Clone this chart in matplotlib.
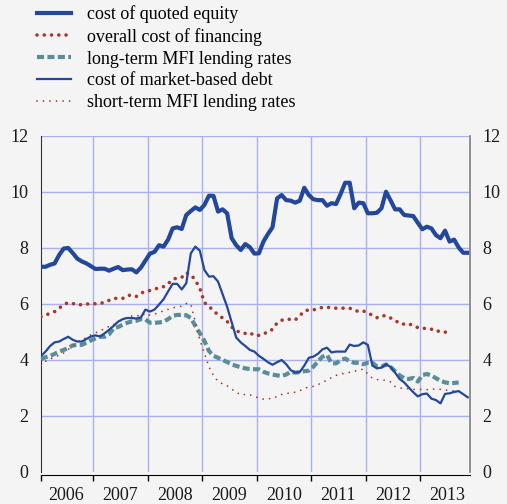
import numpy as np
import matplotlib.pyplot as plt

plt.rcParams['font.family'] = ['Liberation Serif', 'DejaVu Serif']

years = ['2006', '2007', '2008', '2009', '2010', '2011', '2012', '2013']

# monthly series, Jan 2006 onwards (percentages per annum)
quoted_equity = [
    7.33, 7.33, 7.40, 7.45, 7.75, 7.98, 8.00, 7.82, 7.62, 7.52, 7.45, 7.35,
    7.25, 7.26, 7.26, 7.19, 7.26, 7.32, 7.21, 7.23, 7.24, 7.13, 7.30, 7.55,
    7.80, 7.86, 8.10, 8.05, 8.30, 8.70, 8.74, 8.68, 9.18, 9.32, 9.45, 9.36,
    9.54, 9.87, 9.86, 9.30, 9.38, 9.24, 8.35, 8.10, 7.93, 8.14, 8.03, 7.80,
    7.81, 8.23, 8.50, 8.74, 9.77, 9.89, 9.71, 9.69, 9.62, 9.69, 10.15, 9.89,
    9.74, 9.71, 9.71, 9.51, 9.60, 9.57, 9.93, 10.33, 10.33, 9.42, 9.62, 9.60,
    9.24, 9.24, 9.26, 9.42, 10.01, 9.70, 9.38, 9.38, 9.18, 9.16, 9.14, 8.90,
    8.67, 8.76, 8.70, 8.46, 8.35, 8.62, 8.23, 8.30, 8.02, 7.83, 7.83,
]
overall_cost = [
    5.55, 5.60, 5.67, 5.73, 5.85, 5.98, 6.05, 6.02, 5.96, 5.98, 6.00, 6.00,
    6.01, 6.02, 6.06, 6.13, 6.20, 6.20, 6.20, 6.30, 6.32, 6.27, 6.38, 6.46,
    6.48, 6.53, 6.58, 6.62, 6.72, 6.88, 6.93, 6.95, 7.12, 7.05, 6.85, 6.55,
    6.05, 5.92, 5.75, 5.62, 5.50, 5.38, 5.18, 5.05, 4.97, 4.95, 4.98, 4.87,
    4.88, 4.95, 4.98, 5.10, 5.32, 5.42, 5.46, 5.45, 5.43, 5.58, 5.75, 5.79,
    5.79, 5.83, 5.88, 5.88, 5.87, 5.85, 5.85, 5.85, 5.85, 5.78, 5.73, 5.75,
    5.68, 5.60, 5.51, 5.58, 5.58, 5.50, 5.42, 5.30, 5.28, 5.30, 5.22, 5.16,
    5.13, 5.13, 5.10, 5.02, 5.04, 5.00, 4.93,
]
long_term_mfi = [
    4.03, 4.10, 4.14, 4.22, 4.30, 4.36, 4.43, 4.52, 4.54, 4.54, 4.62, 4.70,
    4.77, 4.83, 4.83, 4.92, 5.13, 5.18, 5.26, 5.33, 5.38, 5.40, 5.46, 5.45,
    5.33, 5.33, 5.34, 5.37, 5.46, 5.58, 5.61, 5.61, 5.60, 5.50, 5.22, 4.95,
    4.68, 4.32, 4.15, 4.08, 4.00, 3.93, 3.84, 3.79, 3.74, 3.70, 3.68, 3.67,
    3.67, 3.58, 3.52, 3.48, 3.45, 3.43, 3.48, 3.58, 3.55, 3.57, 3.60, 3.62,
    3.76, 3.95, 4.12, 4.18, 3.88, 3.88, 4.00, 4.05, 3.96, 3.90, 3.90, 3.85,
    3.90, 3.90, 3.77, 3.76, 3.84, 3.75, 3.60, 3.45, 3.35, 3.32, 3.36, 3.23,
    3.46, 3.50, 3.45, 3.35, 3.26, 3.20, 3.17, 3.18, 3.20,
]
market_debt = [
    4.14, 4.30, 4.50, 4.63, 4.66, 4.75, 4.83, 4.72, 4.66, 4.66, 4.75, 4.84,
    4.88, 4.84, 4.95, 5.08, 5.22, 5.37, 5.46, 5.50, 5.50, 5.48, 5.52, 5.80,
    5.73, 5.80, 5.98, 6.17, 6.45, 6.72, 6.72, 6.52, 6.74, 7.81, 8.05, 7.90,
    7.21, 6.98, 6.99, 6.80, 6.35, 5.90, 5.35, 4.80, 4.63, 4.50, 4.36, 4.30,
    4.15, 4.04, 3.92, 3.83, 3.92, 4.00, 3.85, 3.64, 3.55, 3.57, 3.80, 4.08,
    4.12, 4.22, 4.38, 4.44, 4.27, 4.30, 4.30, 4.30, 4.55, 4.50, 4.52, 4.63,
    4.54, 3.80, 3.70, 3.73, 3.85, 3.75, 3.55, 3.32, 3.20, 3.02, 2.85, 2.70,
    2.78, 2.80, 2.62, 2.57, 2.45, 2.79, 2.81, 2.86, 2.89, 2.78, 2.67,
]
short_term_mfi = [
    3.80, 3.95, 4.04, 4.10, 4.17, 4.25, 4.38, 4.50, 4.64, 4.72, 4.80, 4.90,
    4.97, 5.04, 5.12, 5.20, 5.26, 5.38, 5.43, 5.53, 5.57, 5.60, 5.55, 5.67,
    5.60, 5.64, 5.69, 5.76, 5.81, 5.86, 5.90, 5.92, 6.02, 6.00, 5.35, 4.70,
    4.24, 3.75, 3.45, 3.23, 3.15, 3.08, 2.96, 2.85, 2.75, 2.77, 2.76, 2.70,
    2.64, 2.60, 2.62, 2.62, 2.70, 2.77, 2.80, 2.83, 2.85, 2.90, 2.98, 3.04,
    3.06, 3.12, 3.20, 3.28, 3.37, 3.45, 3.50, 3.53, 3.56, 3.60, 3.64, 3.67,
    3.50, 3.35, 3.30, 3.29, 3.27, 3.22, 3.05, 3.00, 2.99, 2.97, 2.95, 2.95,
    2.95, 2.94, 2.95, 2.97, 2.95, 2.93, 2.91, 2.89, 2.89,
]

blue = '#22479b'
red = '#a8382b'
teal = '#5b8d98'
grid_c = '#a9b1ea'
bg = '#f4f4f4'

fig = plt.figure(figsize=(5.07, 5.04), dpi=100, facecolor=bg)
ax = fig.add_axes([41 / 507, 1 - 472 / 504, 429 / 507, 336 / 504])
ax.set_facecolor(bg)

l1, = ax.plot(np.arange(len(quoted_equity)), quoted_equity, color=blue, lw=3.0,
              solid_joinstyle='round', zorder=6)
l2, = ax.plot(np.arange(len(overall_cost)), overall_cost, color=red, lw=2.6,
              linestyle=(0, (0.01, 2.0)), dash_capstyle='round', zorder=4)
l3, = ax.plot(np.arange(len(long_term_mfi)), long_term_mfi, color=teal, lw=3.0,
              linestyle=(0, (1.7, 0.8)), zorder=3)
l4, = ax.plot(np.arange(len(market_debt)), market_debt, color=blue, lw=1.6, zorder=5)
l5, = ax.plot(np.arange(len(short_term_mfi)), short_term_mfi, color=red, lw=1.3,
              linestyle=(0, (0.01, 3.6)), dash_capstyle='round', zorder=4)

ax.set_xlim(0, 94.5)
ax.set_ylim(0, 12)

# year boundaries as ticks and grid, year names centred between them
bounds = [11.5 + 12 * i for i in range(7)]
ax.set_xticks([0] + bounds)
ax.set_xticklabels([])
ax.set_xticks([5.5 + 12 * i for i in range(8)], minor=True)
ax.set_xticklabels(years, minor=True)
ax.tick_params(axis='x', which='major', direction='out', length=4, width=1, color='black')
ax.tick_params(axis='x', which='minor', length=0, pad=9, labelsize=13, colors='#1a1a1a')

ax.set_yticks(range(0, 13, 2))
ax.tick_params(axis='y', length=0, pad=9, labelsize=13, colors='#1a1a1a')

for b in bounds:
    ax.axvline(b, color=grid_c, lw=1, zorder=1)
for v in range(2, 13, 2):
    ax.axhline(v, color=grid_c, lw=1, zorder=1)

ax.spines['top'].set_visible(False)
ax.spines['right'].set_visible(False)
ax.spines['left'].set_color('#333333')
ax.spines['bottom'].set_color('black')
ax.spines['bottom'].set_position(('outward', 2))

ax2 = ax.twinx()
ax2.set_ylim(0, 12)
ax2.set_yticks(range(0, 13, 2))
ax2.tick_params(axis='y', length=0, pad=9, labelsize=13, colors='#1a1a1a')
for s in ['top', 'left', 'bottom']:
    ax2.spines[s].set_visible(False)
ax2.spines['right'].set_color('#888888')
ax2.spines['right'].set_linewidth(1.3)

fig.legend([l1, l2, l3, l4, l5],
           ['cost of quoted equity', 'overall cost of financing',
            'long-term MFI lending rates', 'cost of market-based debt',
            'short-term MFI lending rates'],
           loc='upper left', bbox_to_anchor=(37 / 507, 1 - 5 / 504),
           frameon=False, fontsize=13, handlelength=1.9, handletextpad=0.85,
           labelspacing=0.27, borderpad=0, borderaxespad=0)

fig.savefig('out.png', dpi=100, facecolor=bg)
